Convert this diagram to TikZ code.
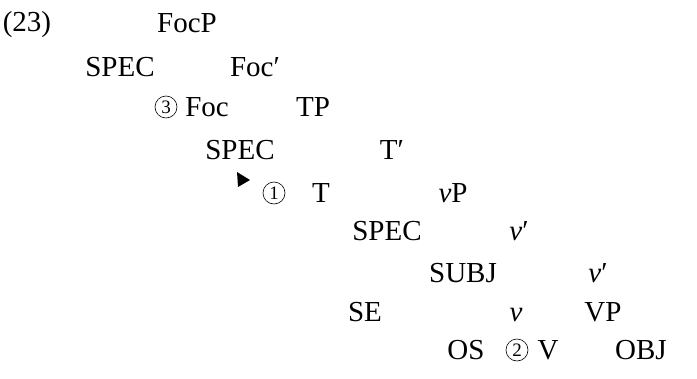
\documentclass[tikz,border=0pt]{standalone}
\usepackage{fontspec}
\setmainfont{Liberation Serif}
\begin{document}
\begin{tikzpicture}[x=1pt,y=-1pt,
  lbl/.style={anchor=base,inner sep=0pt,font=\fontsize{29}{31}\selectfont},
  circ/.style={circle,draw,line width=0.6pt,minimum size=22pt,inner sep=0pt,font=\fontsize{19}{20}\selectfont}]
\useasboundingbox (0,0) rectangle (697,378);
\node[lbl] (ex) at (27,31) {(23)};
\node[lbl] (focp) at (187,32) {FocP};
\node[lbl] (spec1) at (120,76) {SPEC};
\node[lbl] (focbar) at (255,76) {Foc′};
\node[circ] (c3) at (166,107) {3};
\node[lbl] (foc) at (207,116) {Foc};
\node[lbl] (tp) at (313,116) {TP};
\node[lbl] (spec2) at (240,159) {SPEC};
\node[lbl] (tbar) at (392,159) {T′};
\fill (237,172) -- (250,180) -- (238,187) -- cycle;
\node[circ] (c1) at (274,193) {1};
\node[lbl] (t) at (321,202) {T};
\node[lbl] (vp) at (453,202) {\textit{v}P};
\node[lbl] (spec3) at (387,240) {SPEC};
\node[lbl] (vbar1) at (519,240) {\textit{v}′};
\node[lbl] (subj) at (463,282) {SUBJ};
\node[lbl] (vbar2) at (598,282) {\textit{v}′};
\node[lbl] (se) at (365,321) {SE};
\node[lbl] (v) at (516,321) {\textit{v}};
\node[lbl] (vpp) at (603,321) {VP};
\node[lbl] (os) at (466,359) {OS};
\node[circ] (c2) at (517,350) {2};
\node[lbl] (vv) at (548,359) {V};
\node[lbl] (obj) at (641,359) {OBJ};
\end{tikzpicture}
\end{document}
